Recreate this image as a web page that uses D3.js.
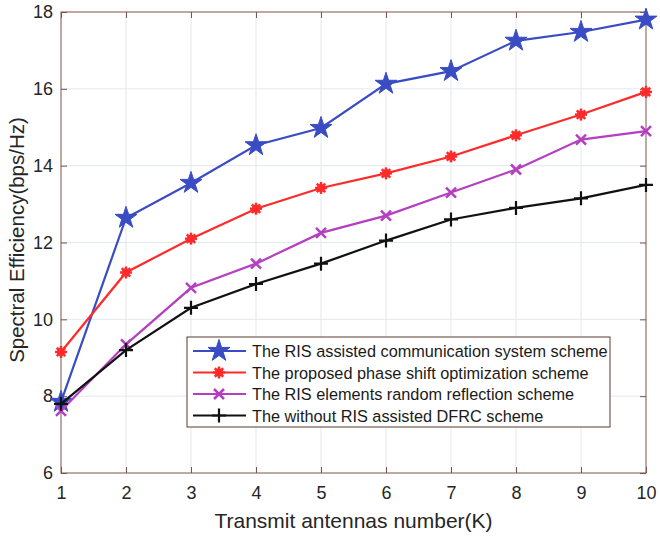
<!DOCTYPE html>
<html>
<head>
<meta charset="utf-8">
<script src="https://cdn.jsdelivr.net/npm/d3@7"></script>
<style>
  body { margin: 0; background: #fff; }
  text { font-family: "Liberation Sans", Arial, sans-serif; }
</style>
</head>
<body>
<div id="chart"></div>
<script>
var antennas = [1, 2, 3, 4, 5, 6, 7, 8, 9, 10];
var risSystem = [7.85, 12.64, 13.55, 14.53, 14.98, 16.13, 16.46, 17.25, 17.48, 17.8];
var proposed = [9.15, 11.22, 12.1, 12.88, 13.42, 13.8, 14.24, 14.79, 15.33, 15.92];
var randomRefl = [7.62, 9.35, 10.82, 11.45, 12.25, 12.7, 13.3, 13.9, 14.68, 14.9];
var withoutRis = [7.8, 9.2, 10.3, 10.92, 11.45, 12.05, 12.6, 12.9, 13.15, 13.5];
var yTicks = [6, 8, 10, 12, 14, 16, 18];
var seriesNames = [
  "The RIS assisted communication system scheme",
  "The proposed phase shift optimization scheme",
  "The RIS elements random reflection scheme",
  "The without RIS assisted DFRC scheme"
];

var series = [
  { name: seriesNames[0], values: risSystem, color: "#3a4cc4", marker: "star" },
  { name: seriesNames[1], values: proposed, color: "#ff2b2b", marker: "asterisk" },
  { name: seriesNames[2], values: randomRefl, color: "#b43fc0", marker: "cross" },
  { name: seriesNames[3], values: withoutRis, color: "#111111", marker: "plus" }
];

var w = 660, h = 538;
var pLeft = 61, pRight = 646, pTop = 12, pBottom = 473;
var axisColor = "#7a5548";

var svg = d3.select("#chart").append("svg").attr("width", w).attr("height", h);

var x = d3.scaleLinear().domain([1, 10]).range([pLeft, pRight]);
var y = d3.scaleLinear().domain([6, 18]).range([pBottom, pTop]);

// grid
svg.append("g").selectAll("line").data(antennas.slice(1, -1)).enter().append("line")
  .attr("x1", function (d) { return x(d); }).attr("x2", function (d) { return x(d); })
  .attr("y1", pTop).attr("y2", pBottom)
  .style("stroke", "#e3e8ee").style("stroke-width", 1);
svg.append("g").selectAll("line").data(yTicks.slice(1, -1)).enter().append("line")
  .attr("y1", function (d) { return y(d); }).attr("y2", function (d) { return y(d); })
  .attr("x1", pLeft).attr("x2", pRight)
  .style("stroke", "#e3e8ee").style("stroke-width", 1);

// axes (ticks inward, mirrored)
function styleAxis(g) {
  g.select(".domain").remove();
  g.selectAll(".tick line").style("stroke", axisColor);
  g.selectAll(".tick text").style("font-size", "18px").style("fill", "#262626")
    .style("font-family", "'Liberation Sans', Arial, sans-serif");
}
svg.append("g").attr("transform", "translate(0," + pBottom + ")")
  .call(d3.axisBottom(x).tickValues(antennas).tickSize(-6).tickPadding(13).tickFormat(d3.format("d")))
  .call(styleAxis);
svg.append("g").attr("transform", "translate(0," + pTop + ")")
  .call(d3.axisTop(x).tickValues(antennas).tickSize(-6).tickFormat(""))
  .call(styleAxis);
svg.append("g").attr("transform", "translate(" + pLeft + ",0)")
  .call(d3.axisLeft(y).tickValues(yTicks).tickSize(-6).tickPadding(8))
  .call(styleAxis);
svg.append("g").attr("transform", "translate(" + pRight + ",0)")
  .call(d3.axisRight(y).tickValues(yTicks).tickSize(-6).tickFormat(""))
  .call(styleAxis);

svg.append("rect").attr("x", pLeft).attr("y", pTop)
  .attr("width", pRight - pLeft).attr("height", pBottom - pTop)
  .style("fill", "none").style("stroke", axisColor).style("stroke-width", 1);

// markers
var starPath = d3.symbol().type(d3.symbolStar).size(150);
function drawMarker(g, type, color) {
  if (type === "star") {
    g.append("path").attr("d", starPath()).style("fill", color).style("stroke", color).style("stroke-width", 1);
  } else if (type === "asterisk") {
    g.append("circle").attr("r", 4).style("fill", color);
    [0, 45, 90, 135].forEach(function (a) {
      g.append("line").attr("x1", -6).attr("x2", 6).attr("transform", "rotate(" + a + ")")
        .style("stroke", color).style("stroke-width", 2.5);
    });
  } else if (type === "cross") {
    g.append("path").attr("d", "M-5,-5L5,5M-5,5L5,-5").style("stroke", color).style("stroke-width", 2.5);
  } else {
    g.append("path").attr("d", "M-7,0L7,0M0,-7L0,7").style("stroke", color).style("stroke-width", 2.2);
  }
}

var line = d3.line()
  .x(function (d, i) { return x(antennas[i]); })
  .y(function (d) { return y(d); });

series.forEach(function (s) {
  svg.append("path").datum(s.values).attr("d", line)
    .style("fill", "none").style("stroke", s.color).style("stroke-width", 2.2);
  svg.append("g").selectAll("g").data(s.values).enter().append("g")
    .attr("transform", function (d, i) { return "translate(" + x(antennas[i]) + "," + y(d) + ")"; })
    .each(function () { drawMarker(d3.select(this), s.marker, s.color); });
});

// legend
var lx = 187, ly = 337, lw = 423, lh = 90;
svg.append("rect").attr("x", lx).attr("y", ly).attr("width", lw).attr("height", lh)
  .style("fill", "#fff").style("stroke", "#5a3a32").style("stroke-width", 1);
series.forEach(function (s, i) {
  var yy = ly + 14 + i * 21.5;
  var g = svg.append("g");
  g.append("line").attr("x1", lx + 6).attr("x2", lx + 59).attr("y1", yy).attr("y2", yy)
    .style("stroke", s.color).style("stroke-width", 2.2);
  drawMarker(g.append("g").attr("transform", "translate(" + (lx + 32) + "," + yy + ")"), s.marker, s.color);
  g.append("text").attr("x", lx + 65).attr("y", yy + 6).text(s.name)
    .style("font-size", "16.3px").style("fill", "#1a1a1a");
});

// axis labels
svg.append("text").attr("x", (pLeft + pRight) / 2).attr("y", 528).attr("text-anchor", "middle")
  .text("Transmit antennas number(K)").style("font-size", "21px").style("fill", "#262626");
svg.append("text").attr("transform", "translate(24,240) rotate(-90)")
  .attr("text-anchor", "middle")
  .text("Spectral Efficiency(bps/Hz)").style("font-size", "20.5px").style("fill", "#262626");
</script>
</body>
</html>
